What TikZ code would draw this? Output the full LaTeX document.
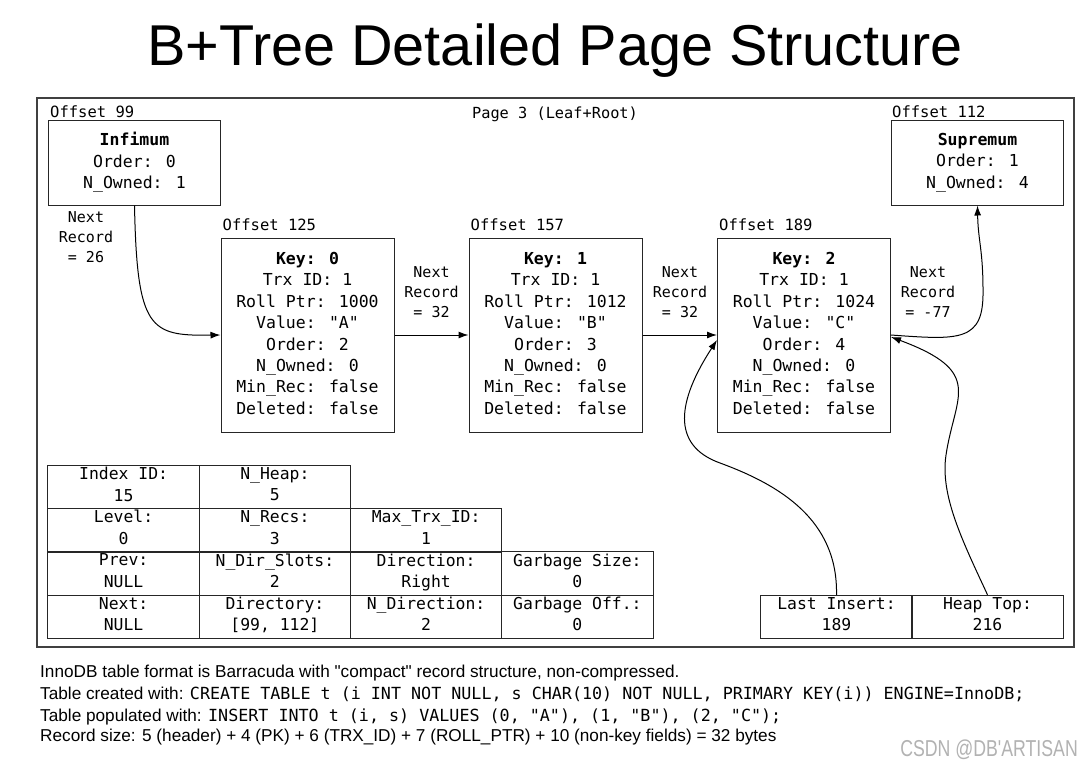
\documentclass[tikz,border=0pt]{standalone}
\usepackage{fontspec}
\newfontfamily\sansf{Liberation Sans}
\newfontfamily\wmf[FakeStretch=0.77]{Liberation Sans}
\newfontfamily\monof{DejaVu Sans Mono}
\usetikzlibrary{arrows.meta}
\newcommand\vstrut[1]{\rule[-#1]{0pt}{\baselineskip}}
\begin{document}
\begin{tikzpicture}[x=1pt,y=-1pt,
  line/.style={draw=black, line width=1pt},
  arr/.style={line, -{Latex[length=10pt,width=7pt]}},
  struts/.style={execute at begin node={\vstrut{#1}}, execute at end node={\vstrut{#1}}},
  rec/.style={draw=black!85, line width=1pt, minimum width=173pt, minimum height=194pt, align=center, inner sep=0pt, struts=3.4pt, font=\monof\fontsize{16.5}{21.4}\selectfont},
  sysrec/.style={rec, minimum width=172pt, minimum height=85pt},
  offlbl/.style={anchor=base west, inner sep=0pt, font=\monof\fontsize{15.5}{18}\selectfont},
  nxt/.style={align=center, inner sep=0pt, struts=5.5pt, font=\monof\fontsize{15}{19.9}\selectfont},
  cell/.style={draw=black!85, line width=1pt, minimum width=151.25pt, minimum height=43.25pt, inner sep=0pt, align=center, struts=6pt, font=\monof\fontsize{16.4}{21.5}\selectfont},
  note/.style={anchor=base west, inner sep=0pt, font=\sansf\fontsize{17.2}{20}\selectfont},
  code/.style={font=\monof\fontsize{16.7}{20}\selectfont}
]
\fill[white] (0,0) rectangle (1092,763);
\useasboundingbox (0,0) rectangle (1092,763);

% title
\node[anchor=base, inner sep=0pt, font=\sansf\fontsize{57.6}{60}\selectfont] (title) at (555,65.5) {B+Tree Detailed Page Structure};

% page frame
\node[draw=black!75, line width=1.5pt, minimum width=1037pt, minimum height=549pt, inner sep=0pt] (page) at (555.5,372.5) {};
\node[inner sep=0pt, font=\monof\fontsize{15.3}{18}\selectfont] (pagelbl) at (555,114) {Page 3 (Leaf+Root)};

% infimum / supremum
\node[sysrec] (inf) at (134.5,162.5) {\textbf{Infimum}\\Order: 0\\N\_Owned: 1};
\node[sysrec] (sup) at (977.5,162.5) {\textbf{Supremum}\\Order: 1\\N\_Owned: 4};
\node[offlbl] (infoff) at ([xshift=2pt,yshift=2.5pt]inf.north west) {Offset 99};
\node[offlbl] (supoff) at ([xshift=1pt,yshift=2.5pt]sup.north west) {Offset 112};

% user records
\node[rec] (k0) at (307.5,335) {\textbf{Key: 0}\\Trx ID: 1\\Roll Ptr: 1000\\Value: "A"\\Order: 2\\N\_Owned: 0\\Min\_Rec: false\\Deleted: false};
\node[rec] (k1) at (555.5,335) {\textbf{Key: 1}\\Trx ID: 1\\Roll Ptr: 1012\\Value: "B"\\Order: 3\\N\_Owned: 0\\Min\_Rec: false\\Deleted: false};
\node[rec] (k2) at (804,335) {\textbf{Key: 2}\\Trx ID: 1\\Roll Ptr: 1024\\Value: "C"\\Order: 4\\N\_Owned: 0\\Min\_Rec: false\\Deleted: false};
\node[offlbl] (k0off) at ([xshift=2pt,yshift=7.5pt]k0.north west) {Offset 125};
\node[offlbl] (k1off) at ([xshift=2pt,yshift=7.5pt]k1.north west) {Offset 157};
\node[offlbl] (k2off) at ([xshift=2pt,yshift=7.5pt]k2.north west) {Offset 189};

% next record labels
\node[nxt] (n0) at (86,240) {Next\\Record\\= 26};
\node[nxt] (n1) at (431.5,294.7) {Next\\Record\\= 32};
\node[nxt] (n2) at (680,294.7) {Next\\Record\\= 32};
\node[nxt] (n3) at (928,294.7) {Next\\Record\\= -77};

% header table
\node[cell] (c11) at (123.6,487.1) {Index ID:\\15};
\node[cell] (c12) at (274.9,487.1) {N\_Heap:\\5};
\node[cell] (c21) at (123.6,530.4) {Level:\\0};
\node[cell] (c22) at (274.9,530.4) {N\_Recs:\\3};
\node[cell] (c23) at (426.1,530.4) {Max\_Trx\_ID:\\1};
\node[cell] (c31) at (123.6,573.6) {Prev:\\NULL};
\node[cell] (c32) at (274.9,573.6) {N\_Dir\_Slots:\\2};
\node[cell] (c33) at (426.1,573.6) {Direction:\\Right};
\node[cell] (c34) at (577.4,573.6) {Garbage Size:\\0};
\node[cell] (c41) at (123.6,616.9) {Next:\\NULL};
\node[cell] (c42) at (274.9,616.9) {Directory:\\{[99, 112]}};
\node[cell] (c43) at (426.1,616.9) {N\_Direction:\\2};
\node[cell] (c44) at (577.4,616.9) {Garbage Off.:\\0};

\node[cell] (li) at (836.5,616.9) {Last Insert:\\189};
\node[cell] (ht) at (987.5,616.9) {Heap Top:\\216};

% connectors
\draw[arr] (inf.south) .. controls (137,330) and (150,336) .. (k0.west);
\draw[arr] (k0.east) -- (k1.west);
\draw[arr] (k1.east) -- (k2.west);
\draw[arr] (k2.east) .. controls (960,340) and (984,342) .. (983,290) .. controls (983,250) and (978,240) .. (sup.south);
\draw[arr] (li.north) .. controls (838,520) and (780,485) .. (720,463) .. controls (670,445) and (678,400) .. ([yshift=-5pt]k2.west);
\draw[arr] (ht.north) .. controls (962,540) and (940,495) .. (946,455) .. controls (955,395) and (985,372) .. ([yshift=-2pt]k2.east);

% notes
\node[note] (t1) at (40,677.5) {InnoDB table format is Barracuda with "compact" record structure, non-compressed.};
\node[note] (t2) at (40,699) {Table created with: {\monof\fontsize{16.7}{20}\selectfont CREATE TABLE t (i INT NOT NULL, s CHAR(10) NOT NULL, PRIMARY KEY(i)) ENGINE=InnoDB;}};
\node[note] (t3) at (40,721) {Table populated with: {\monof\fontsize{16.7}{20}\selectfont INSERT INTO t (i, s) VALUES (0, "A"), (1, "B"), (2, "C");}};
\node[note] (t4) at (40,741.5) {Record size: 5 (header) + 4 (PK) + 6 (TRX\_ID) + 7 (ROLL\_PTR) + 10 (non-key fields) = 32 bytes};
\node[anchor=base east, inner sep=0pt, text=black!30, font=\wmf\fontsize{23}{25}\selectfont] (wm) at (1078,756) {CSDN @DB'ARTISAN};
\end{tikzpicture}
\end{document}
